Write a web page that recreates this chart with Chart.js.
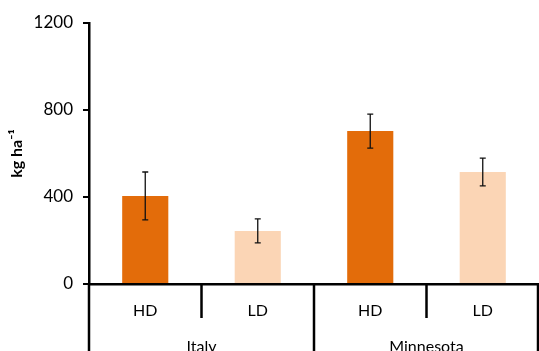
<!DOCTYPE html>
<html>
<head>
<meta charset="utf-8">
<script src="https://cdn.jsdelivr.net/npm/chart.js@4.4.1/dist/chart.umd.min.js"></script>
<style>
  html, body { margin: 0; padding: 0; background: #fff; }
  #wrap { width: 539px; height: 351px; }
</style>
</head>
<body>
<div id="wrap"><canvas id="yieldChart"></canvas></div>
<script>
// data
var treatments = ['HD', 'LD', 'HD', 'LD'];
var sites = ['Italy', 'Minnesota'];
var yieldMeans = [405, 244, 703, 515];
var yieldErrors = [110, 55, 78, 64];
var yTicks = [0, 400, 800, 1200];

var barColors = ['#E36C0A', '#FBD5B5', '#E36C0A', '#FBD5B5'];
var fontName = 'Lato, "Open Sans", sans-serif';

// error bars on top of each bar
var errorBars = {
    id: 'errorBars',
    afterDatasetsDraw: function (chart) {
        var ctx = chart.ctx;
        var y = chart.scales.y;
        var bars = chart.getDatasetMeta(0).data;
        ctx.save();
        ctx.strokeStyle = '#111';
        ctx.lineWidth = 1.3;
        bars.forEach(function (bar, i) {
            var top = y.getPixelForValue(yieldMeans[i] + yieldErrors[i]);
            var bot = y.getPixelForValue(yieldMeans[i] - yieldErrors[i]);
            ctx.beginPath();
            ctx.moveTo(bar.x, top); ctx.lineTo(bar.x, bot);
            ctx.moveTo(bar.x - 3, top); ctx.lineTo(bar.x + 3, top);
            ctx.moveTo(bar.x - 3, bot); ctx.lineTo(bar.x + 3, bot);
            ctx.stroke();
        });
        ctx.restore();
    }
};

// category separators and the site labels underneath
var groupAxis = {
    id: 'groupAxis',
    afterDraw: function (chart) {
        var ctx = chart.ctx;
        var x = chart.scales.x;
        var area = chart.chartArea;
        var step = (x.right - x.left) / treatments.length;
        var perSite = treatments.length / sites.length;
        ctx.save();
        ctx.strokeStyle = '#000';
        ctx.lineWidth = 2.5;
        for (var i = 0; i <= treatments.length; i++) {
            var px = Math.min(x.left + i * step, chart.width - 1);
            var end = (i % perSite === 0) ? chart.height : area.bottom + 34;
            ctx.beginPath();
            ctx.moveTo(px, area.bottom);
            ctx.lineTo(px, end);
            ctx.stroke();
        }
        ctx.fillStyle = '#000';
        ctx.font = '16px ' + fontName;
        ctx.textAlign = 'center';
        ctx.textBaseline = 'middle';
        sites.forEach(function (s, k) {
            var cx = x.left + (k + 0.5) * perSite * step;
            ctx.fillText(s, cx, area.bottom + 63);
        });
        ctx.restore();
    }
};

new Chart('yieldChart', {
    type: 'bar',
    data: {
        labels: treatments,
        datasets: [{
            data: yieldMeans,
            backgroundColor: barColors,
            borderWidth: 0,
            categoryPercentage: 1,
            barPercentage: 0.41
        }]
    },
    options: {
        responsive: true,
        maintainAspectRatio: false,
        animation: false,
        layout: { padding: { top: 23, right: 0, left: 0, bottom: 0 } },
        plugins: {
            legend: { display: false },
            tooltip: { enabled: false }
        },
        scales: {
            x: {
                offset: true,
                grid: { display: false },
                border: { display: true, color: '#000', width: 2.5 },
                ticks: {
                    color: '#000',
                    font: { family: fontName, size: 16 },
                    padding: 9,
                    maxRotation: 0
                },
                afterFit: function (s) { s.height = 67; }
            },
            y: {
                min: 0,
                max: 1200,
                afterBuildTicks: function (s) {
                    s.ticks = yTicks.map(function (v) { return { value: v }; });
                },
                grid: { drawOnChartArea: false, tickLength: 6, color: '#000', lineWidth: 2 },
                border: { display: true, color: '#000', width: 2.5 },
                ticks: {
                    color: '#000',
                    font: { family: fontName, size: 17 },
                    padding: 10,
                    callback: function (v) { return String(v); }
                },
                title: {
                    display: true,
                    text: 'kg ha⁻¹',
                    color: '#000',
                    font: { family: fontName, size: 16, weight: 'bold' },
                    padding: { top: 7, bottom: 0 }
                },
                afterFit: function (s) { s.width = 89; }
            }
        }
    },
    plugins: [errorBars, groupAxis]
});
</script>
</body>
</html>
